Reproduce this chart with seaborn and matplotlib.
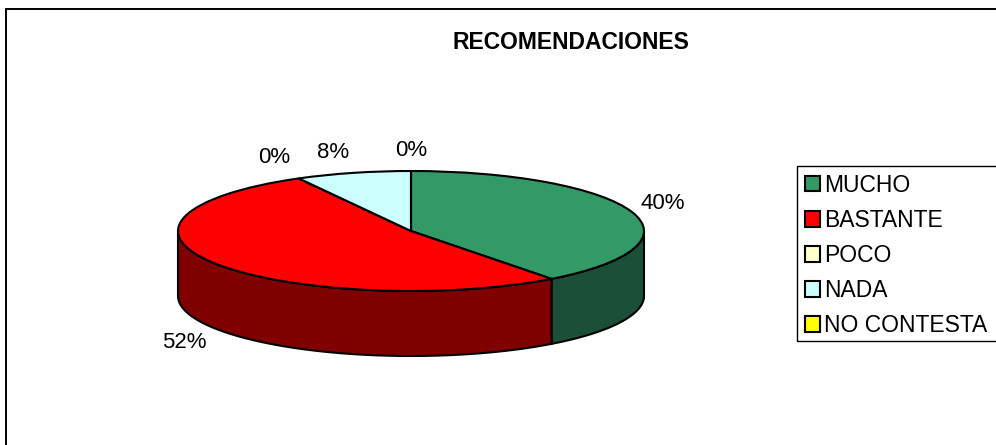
# recomendaciones.py
# 3D looking pie, squashed pie on top and fake side walls under it

import numpy as np
import matplotlib
matplotlib.use('Agg')
import matplotlib.pyplot as plt
from matplotlib.lines import Line2D
from matplotlib.patches import Rectangle
import seaborn as sns

# Data
categories = ['MUCHO', 'BASTANTE', 'POCO', 'NADA', 'NO CONTESTA']
percents = [39.7, 52.3, 0, 8, 0]
title = 'RECOMENDACIONES'

top_colors = sns.color_palette(['#339966', '#ff0000', '#ffffcc', '#ccffff', '#ffff00'])
side_colors = sns.color_palette(['#1c4f38', '#800000', '#80806a', '#6a8080', '#808000'])
# pixel offset of each label from the rim of its slice
label_offsets = [(31, 8), (-31, -14), (-25, 21), (-20, 20), (0, 20)]

sns.set_theme(style='white')
plt.rcParams['font.family'] = ['Liberation Sans', 'DejaVu Sans']

W, H = 996, 445
cx, cy = 411, 231   # pie centre in pixels
rx, ry = 233, 60    # pie radius in pixels
depth = 65 / ry     # wall height in axis units
lw = 1.5

fig = plt.figure(figsize=(W / 100, H / 100), dpi=100)
ax = fig.add_axes([0, 0, 1, 1])

wedges, _ = ax.pie(percents, colors=top_colors, startangle=90, counterclock=False,
                   wedgeprops={'edgecolor': 'black', 'linewidth': lw, 'zorder': 3})
ax.set_aspect('auto')
ax.set_xlim(-cx / rx, (W - cx) / rx)
ax.set_ylim(-(H - cy) / ry, cy / ry)

# slice limits, clockwise from 12 o'clock
shares = np.array(percents) / sum(percents)
ends = 90 - 360 * np.cumsum(shares)
starts = np.r_[90, ends[:-1]]

# side walls, only the part of each slice that faces the front
for i in range(len(percents)):
    hi = min(starts[i], 0)
    lo = max(ends[i], -180)
    if hi <= lo:
        continue
    t = np.radians(np.linspace(hi, lo, 80))
    xs = np.cos(t)
    ys = np.sin(t)
    ax.fill(np.r_[xs, xs[::-1]], np.r_[ys, ys[::-1] - depth],
            facecolor=side_colors[i], edgecolor='black', linewidth=lw, zorder=2)

# percent labels
mids = np.radians((starts + ends) / 2)
for i, p in enumerate(percents):
    x, y = np.cos(mids[i]), np.sin(mids[i])
    if y < 0:
        y = y - depth
    ax.annotate('%.0f%%' % p, xy=(x, y), xytext=label_offsets[i], textcoords='offset pixels',
                ha='center', va='center', fontsize=16, color='black')

ax.text(0.5733, 0.905, title, transform=ax.transAxes, ha='center', va='center',
        fontsize=16.5, fontweight='bold', color='black')

leg = ax.legend(wedges, categories, loc='upper left', bbox_to_anchor=(797 / W, 1 - 166 / H),
                fontsize=16.5, frameon=False,
                handlelength=0.68, handleheight=0.68, handletextpad=0.17,
                labelspacing=0.53, borderpad=0.33, borderaxespad=0, labelcolor='black')

# legend box runs off the right side of the picture
fig.add_artist(Rectangle((797 / W, 1 - 341 / H), 210 / W, 175 / H, transform=fig.transFigure,
                         facecolor='none', edgecolor='black', linewidth=1.0))

# outer frame, only left and top are inside the picture
fig.add_artist(Line2D([5.5 / W, 5.5 / W], [0, 1 - 8.5 / H], color='black', lw=1.4))
fig.add_artist(Line2D([5.5 / W, 1], [1 - 8.5 / H, 1 - 8.5 / H], color='black', lw=1.4))

fig.savefig('out.png', dpi=100)
